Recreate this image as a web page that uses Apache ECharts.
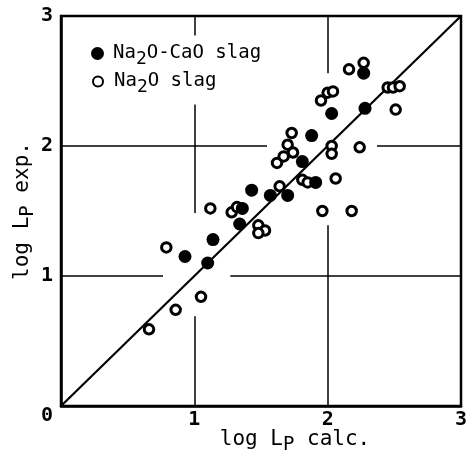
<!DOCTYPE html>
<html><head><meta charset="utf-8">
<script src="https://cdn.jsdelivr.net/npm/echarts@6/dist/echarts.min.js"></script>
<style>html,body{margin:0;padding:0;background:#fff}#c{width:468px;height:453px}</style>
</head><body><div id="c"></div>
<script>
// ---- data ----
const seriesNames = ['Na2O-CaO slag', 'Na2O slag'];
const naCaOSlag = [
  [0.93,1.15],[1.10,1.10],[1.14,1.28],[1.36,1.52],[1.34,1.40],[1.43,1.66],[1.57,1.62],
  [1.70,1.62],[1.81,1.88],[1.88,2.08],[2.03,2.25],[2.27,2.56],[2.28,2.29],[1.91,1.72]
];
const naOSlag = [
  [0.66,0.59],[0.86,0.74],[1.05,0.84],[0.79,1.22],[1.12,1.52],[1.28,1.49],[1.32,1.53],
  [1.48,1.39],[1.53,1.35],[1.48,1.33],[1.64,1.69],[1.62,1.87],[1.67,1.92],[1.70,2.01],
  [1.74,1.95],[1.73,2.10],[1.81,1.74],[1.85,1.72],[1.96,1.50],[2.18,1.50],[2.06,1.75],
  [2.03,2.00],[2.03,1.94],[2.24,1.99],[1.95,2.35],[2.00,2.41],[2.04,2.42],[2.16,2.59],
  [2.27,2.64],[2.45,2.45],[2.49,2.45],[2.54,2.46],[2.51,2.28]
];
const axisTicks = [0, 1, 2, 3];
const identityLine = [[0,0],[3,3]];
// grid-line pieces (the original draws them broken around labels and points)
const gridSegments = [
  [[1,3],[1,2.85]], [[1,2.32],[1,1.485]], [[1,0.69],[1,0]],
  [[2,3],[2,2.56]], [[2,1.39],[2,0]],
  [[0,2],[1.545,2]], [[2.37,2],[3,2]],
  [[0,1],[0.765,1]], [[1.27,1],[3,1]]
];

const MONO = '"DejaVu Sans Mono", monospace';
const legendText = pad => ({fontFamily: MONO, fontSize: 19, color: '#000', padding: [0,0,0,pad],
  rich: {s: {fontFamily: MONO, fontSize: 18, color: '#000', padding: [12,0,0,0]}}});
const chart = echarts.init(document.getElementById('c'), null, {renderer: 'canvas'});
chart.setOption({
  animation: false,
  backgroundColor: '#fff',
  grid: {left: 61, right: 7, top: 16, bottom: 47, show: true, borderColor: '#000', borderWidth: 2.5,
         outerBoundsMode: 'none', containLabel: false},
  legend: [
    {data: [seriesNames[0]], left: 86, top: 39, itemWidth: 13, itemHeight: 13,
     formatter: n => n.replace('2', '{s|2}'), textStyle: legendText(4)},
    {data: [seriesNames[1]], left: 87, top: 67, itemWidth: 10, itemHeight: 10,
     formatter: n => n.replace('2', '{s|2}'), textStyle: legendText(6)}
  ],
  xAxis: {
    type: 'value', min: axisTicks[0], max: axisTicks[axisTicks.length-1], interval: 1,
    axisLine: {show: true, lineStyle: {color: '#000', width: 2.5}},
    axisTick: {show: false}, splitLine: {show: false},
    axisLabel: {formatter: v => v === 0 ? '' : String(v), fontFamily: MONO, fontSize: 20,
      fontWeight: 'bold', color: '#000', margin: 4},
    name: 'log L{s|P} calc.', nameLocation: 'middle', nameGap: 19, nameMoveOverlap: false,
    nameTextStyle: {fontFamily: MONO, fontSize: 21, color: '#000', padding: [0,0,0,68],
      rich: {s: {fontFamily: MONO, fontSize: 19, color: '#000', padding: [11,0,0,0]}}}
  },
  yAxis: {
    type: 'value', min: axisTicks[0], max: axisTicks[axisTicks.length-1], interval: 1,
    axisLine: {show: true, lineStyle: {color: '#000', width: 2.5}},
    axisTick: {show: false}, splitLine: {show: false},
    axisLabel: {fontFamily: MONO, fontSize: 20, fontWeight: 'bold', color: '#000', margin: 8,
      verticalAlignMinLabel: 'top'},
    name: 'log L{s|P} exp.', nameLocation: 'middle', nameGap: 23, nameMoveOverlap: false,
    nameTextStyle: {fontFamily: MONO, fontSize: 21, color: '#000',
      rich: {s: {fontFamily: MONO, fontSize: 19, color: '#000', padding: [11,0,0,0]}}}
  },
  series: [
    {type: 'lines', coordinateSystem: 'cartesian2d', silent: true, z: 1,
     data: gridSegments.map(s => ({coords: s})),
     lineStyle: {color: '#000', width: 1.5, opacity: 1}},
    {type: 'lines', coordinateSystem: 'cartesian2d', silent: true, z: 2,
     data: [{coords: identityLine}],
     lineStyle: {color: '#000', width: 2.2, opacity: 1}},
    {name: seriesNames[1], type: 'scatter', data: naOSlag, z: 3,
     symbol: 'circle', symbolSize: 9.5,
     itemStyle: {color: '#fff', borderColor: '#000', borderWidth: 3, opacity: 1}},
    {name: seriesNames[0], type: 'scatter', data: naCaOSlag, z: 4,
     symbol: 'circle', symbolSize: 13,
     itemStyle: {color: '#000', opacity: 1}}
  ]
});
</script></body></html>
